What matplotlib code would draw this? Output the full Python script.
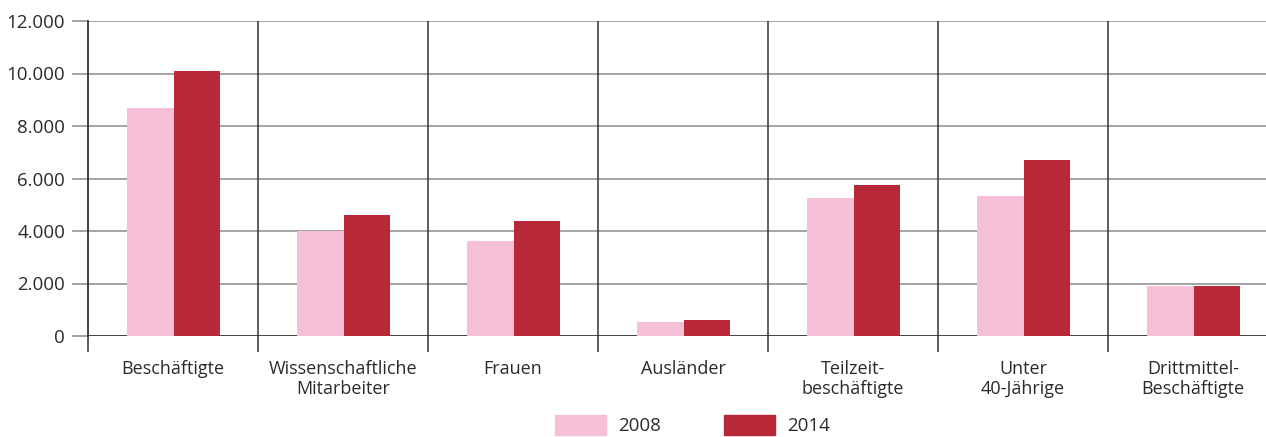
import matplotlib

matplotlib.use("Agg")
import matplotlib.pyplot as plt
import numpy as np
from matplotlib.patches import Patch

categories = [
    "Beschäftigte",
    "Wissenschaftliche\nMitarbeiter",
    "Frauen",
    "Ausländer",
    "Teilzeit-\nbeschäftigte",
    "Unter\n40-Jährige",
    "Drittmittel-\nBeschäftigte",
]
values_2008 = [8690, 4000, 3620, 530, 5260, 5330, 1910]
values_2014 = [10100, 4610, 4380, 610, 5750, 6700, 1900]
years = ["2008", "2014"]
y_ticks = [0, 2000, 4000, 6000, 8000, 10000, 12000]

PINK = "#F6BFD8"
RED = "#B82837"
TEXT = "#2b2b2b"

plt.rcParams["font.family"] = ["Open Sans", "DejaVu Sans"]

fig = plt.figure(figsize=(12.66, 4.37), dpi=100)
ax = fig.add_axes([88 / 1266, 101 / 437, 1190 / 1266, 315 / 437])

x = np.arange(len(categories)) + 0.5
width = 0.274
ax.bar(x - width / 2 + 0.003, values_2008, width, color=PINK, zorder=3)
ax.bar(x + width / 2 + 0.003, values_2014, width, color=RED, zorder=3)

ax.set_xlim(0, len(categories))
ax.set_ylim(0, 12000)

# horizontal grid (grey) and category separators (dark)
for yv in y_ticks[1:]:
    ax.axhline(yv, color="#8a8a8a", lw=1.1, zorder=1)
ax.axhline(0, color="#333333", lw=1.3, zorder=2)
for xv in range(1, len(categories)):
    ax.axvline(xv, color="#333333", lw=1.1, zorder=1)

for side in ["top", "right", "bottom"]:
    ax.spines[side].set_visible(False)
ax.spines["left"].set_color("#333333")
ax.spines["left"].set_linewidth(1.3)

ax.set_yticks(y_ticks)
ax.set_yticklabels([f"{v:,}".replace(",", ".") for v in y_ticks])
ax.tick_params(axis="y", length=11.5, width=1.1, color="#8a8a8a",
               labelsize=13.5, labelcolor=TEXT, pad=5)

ax.set_xticks(range(len(categories) + 1))
ax.set_xticklabels([])
ax.tick_params(axis="x", which="major", length=11.5, width=1.1, color="#333333")
ax.set_xticks(x, minor=True)
ax.set_xticklabels(categories, minor=True)
ax.tick_params(axis="x", which="minor", length=0, pad=17, labelsize=13,
               labelcolor=TEXT)

handles = [Patch(color=PINK), Patch(color=RED)]
fig.legend(handles, years, loc="lower center", bbox_to_anchor=(0.547, -0.035),
           ncol=2, frameon=False, fontsize=13.5, handlelength=2.7,
           handleheight=1.25, columnspacing=3.4, handletextpad=0.65,
           labelcolor=TEXT)

fig.savefig("out.png", dpi=100)
